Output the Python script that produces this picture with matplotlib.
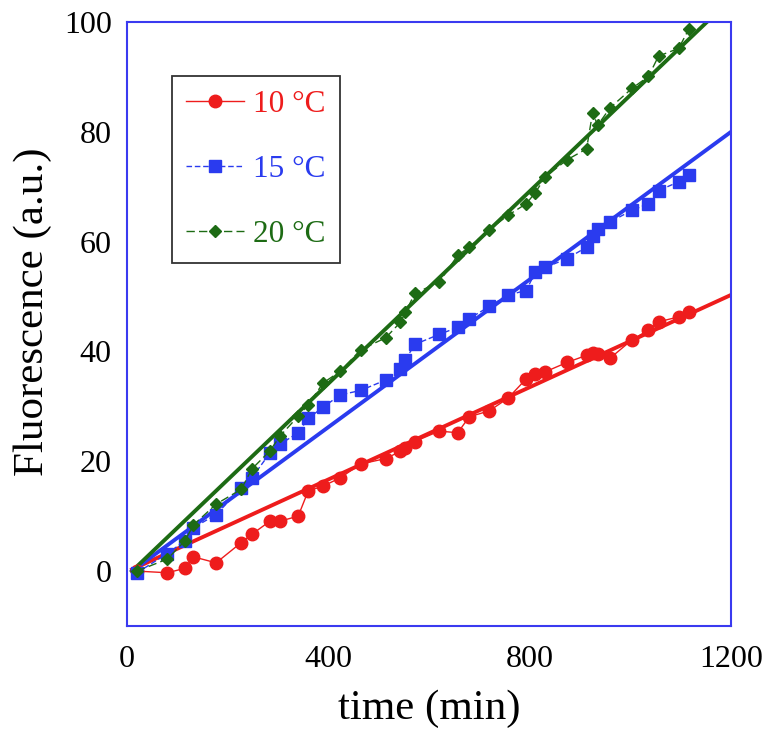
import numpy as np
import matplotlib.pyplot as plt

plt.rcParams["font.family"] = ["Liberation Serif", "DejaVu Serif"]

# sampling times (min), shared by the three series
time = [20, 80, 115, 132, 177, 227, 248, 284, 304, 340, 360, 390, 424, 464,
        514, 543, 553, 572, 620, 657, 680, 720, 757, 793, 811, 831, 874, 913,
        925, 935, 960, 1003, 1036, 1056, 1096, 1116]

fl_10 = [0, -0.3, 0.5, 2.6, 1.5, 5.2, 6.7, 9.1, 9.1, 10.0, 14.6, 15.5, 17.0,
         19.5, 20.5, 21.8, 22.4, 23.6, 25.5, 25.2, 28.1, 29.2, 31.5, 35.0,
         35.9, 36.3, 38.0, 39.3, 39.7, 39.5, 38.8, 42.1, 43.9, 45.4, 46.3, 47.2]
fl_15 = [-0.3, 3.2, 5.5, 7.9, 10.3, 15.1, 17.0, 21.5, 23.1, 25.2, 27.8, 29.9,
         32.1, 32.9, 34.8, 36.8, 38.5, 41.3, 43.1, 44.4, 46.0, 48.2, 50.3,
         51.1, 54.4, 55.3, 56.9, 59.0, 61.1, 62.3, 63.6, 65.7, 66.9, 69.3,
         70.9, 72.1]
fl_20 = [0, 2.2, 5.5, 8.4, 12.2, 14.9, 18.6, 21.9, 24.6, 28.2, 30.3, 34.3,
         36.4, 40.3, 42.5, 45.3, 47.1, 50.6, 52.6, 57.5, 59.0, 62.2, 64.8,
         66.9, 68.9, 71.8, 74.9, 76.9, 83.5, 81.2, 84.4, 87.9, 90.1, 93.8,
         95.2, 98.7]

# linear fits (end points)
fit_x = [10, 1200]
fit_10 = [0.3, 50.3]
fit_15 = [0, 80]
fit_20_x = [10, 1152]
fit_20 = [0, 100]

labels = ["10 \u00b0C", "15 \u00b0C", "20 \u00b0C"]
red, blue, green = "#ee1c1c", "#2a3bef", "#1d6b14"

fig = plt.figure(figsize=(7.67, 7.37), dpi=100)
ax = fig.add_axes([0.1656, 0.1506, 0.7875, 0.8195])

ax.plot(fit_x, fit_10, "-", color=red, linewidth=2.8)
ax.plot(fit_x, fit_15, "-", color=blue, linewidth=2.8)
ax.plot(fit_20_x, fit_20, "-", color=green, linewidth=2.8)

l1, = ax.plot(time, fl_10, "-", color=red, linewidth=1.0, marker="o",
              markersize=9, label=labels[0])
l2, = ax.plot(time, fl_15, color=blue, linewidth=1.0, linestyle=(0, (4, 2)),
              marker="s", markersize=8.5, label=labels[1])
l3, = ax.plot(time, fl_20, color=green, linewidth=1.0, linestyle=(0, (6, 3)),
              marker="D", markersize=6, label=labels[2])

ax.set_xlim(0, 1200)
ax.set_ylim(-10, 100)
ax.set_xticks([0, 400, 800, 1200])
ax.set_yticks([0, 20, 40, 60, 80, 100])
ax.tick_params(length=0, labelsize=23)
ax.tick_params(axis="x", pad=14)
ax.tick_params(axis="y", pad=11)
for s in ax.spines.values():
    s.set_color("#3a3af0")
    s.set_linewidth(1.5)

ax.set_xlabel("time (min)", fontsize=31)
ax.set_ylabel("Fluorescence (a.u.)", fontsize=31)
ax.xaxis.set_label_coords(0.5, -0.105)
ax.yaxis.set_label_coords(-0.125, 0.52)

leg = ax.legend(handles=[l1, l2, l3], loc="upper left",
                bbox_to_anchor=(0.074, 0.911), fontsize=22.5, frameon=True,
                fancybox=False, edgecolor="black", handlelength=1.85,
                handletextpad=0.3, labelspacing=1.15, borderpad=0.45,
                borderaxespad=0)
leg.get_frame().set_linewidth(1.3)
for txt, c in zip(leg.get_texts(), [red, blue, green]):
    txt.set_color(c)

fig.savefig("out.png", dpi=100)
